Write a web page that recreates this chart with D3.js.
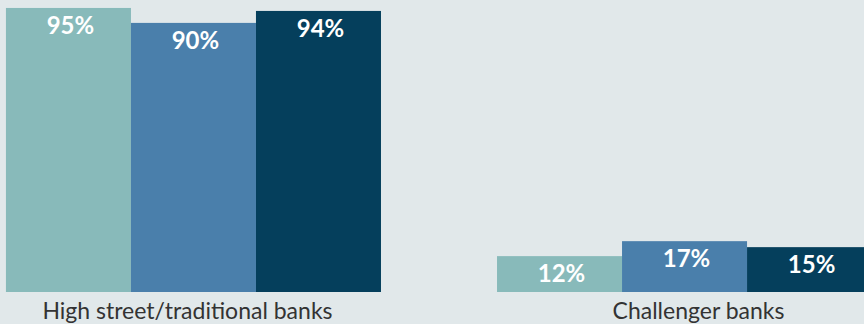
<!DOCTYPE html>
<html>
<head>
<meta charset="utf-8">
<script src="https://cdn.jsdelivr.net/npm/d3@7"></script>
<style>
  html, body { margin: 0; padding: 0; background: #e1e8ea; }
  svg { display: block; }
</style>
</head>
<body>
<svg id="chart" width="864" height="324"></svg>
<script>
const categories = ["High street/traditional banks", "Challenger banks"];
const seriesNames = ["Series A", "Series B", "Series C"];
const seriesValues = [
  [95, 90, 94],
  [12, 17, 15]
];
const colors = ["#88baba", "#4a7fab", "#053f5c"];

const width = 864, height = 324;
const svg = d3.select("#chart");
svg.append("rect").attr("width", width).attr("height", height).attr("fill", "#e1e8ea");

const x0 = d3.scaleBand().domain(categories).range([-52, 930]).paddingInner(0.2363).paddingOuter(0.118);
const x1 = d3.scaleBand().domain(seriesNames).range([0, x0.bandwidth()]).padding(0);
const y = d3.scaleLinear().domain([0, 100]).range([292, -7]);

const font = "'Lato', 'Open Sans', sans-serif";

const groups = svg.selectAll("g.grp").data(categories).join("g")
  .attr("class", "grp")
  .attr("transform", d => `translate(${x0(d)},0)`);

groups.each(function(cat, ci) {
  const g = d3.select(this);
  const data = seriesValues[ci].map((v, i) => ({ name: seriesNames[i], v, i }));
  g.selectAll("rect").data(data).join("rect")
    .attr("x", d => x1(d.name))
    .attr("y", d => y(d.v))
    .attr("width", x1.bandwidth())
    .attr("height", d => y(0) - y(d.v))
    .attr("fill", d => colors[d.i]);
  g.selectAll("text.val").data(data).join("text")
    .attr("class", "val")
    .attr("x", d => x1(d.name) + x1.bandwidth() / 2 + 2)
    .attr("y", d => y(d.v) + 26)
    .attr("text-anchor", "middle")
    .attr("fill", "#ffffff")
    .attr("font-family", font)
    .attr("font-weight", "bold")
    .attr("font-size", 24)
    .text(d => d.v + "%");
});

svg.selectAll("text.cat").data(categories).join("text")
  .attr("class", "cat")
  .attr("x", (d, i) => x0(d) + x0.bandwidth() / 2 + (i === 0 ? -6 : 14))
  .attr("y", 319)
  .attr("text-anchor", "middle")
  .attr("fill", "#333333")
  .attr("font-family", font)
  .attr("font-size", 23)
  .text(d => d);
</script>
</body>
</html>
